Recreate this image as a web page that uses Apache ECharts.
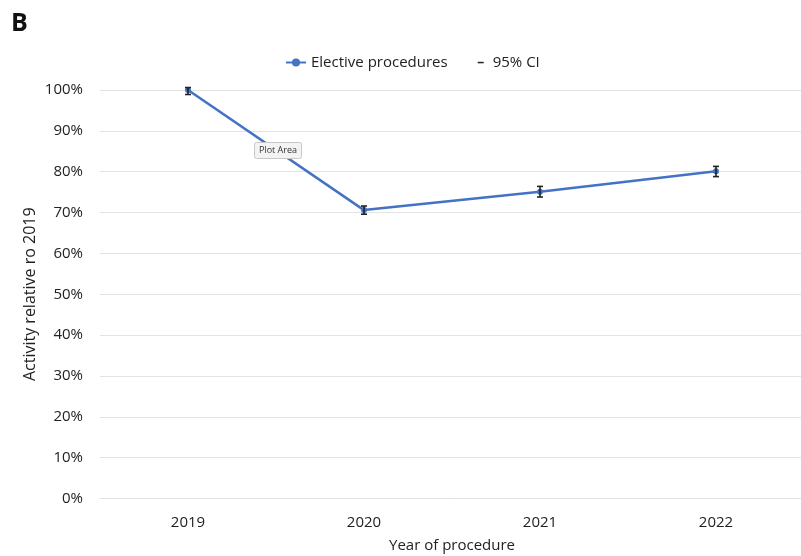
<!DOCTYPE html>
<html><head><meta charset="utf-8">
<script src="https://cdn.jsdelivr.net/npm/echarts@6/dist/echarts.min.js"></script>
<style>html,body{margin:0;padding:0;background:#fff}#c{width:801px;height:556px}</style>
</head><body><div id="c"></div>
<script>
const categories = ['2019', '2020', '2021', '2022'];
const activity = [100, 70.6, 75.1, 80.1];
const ciLow = [98.9, 69.6, 73.8, 78.8];
const ciHigh = [100.6, 71.6, 76.4, 81.3];
const seriesNames = ['Elective procedures', '95% CI'];
const yAxisTitle = 'Activity relative ro 2019';
const xAxisTitle = 'Year of procedure';

const FONT = "'Open Sans', sans-serif";
const TXT = '#222';
const chart = echarts.init(document.getElementById('c'), null, {renderer: 'canvas'});

const ciData = categories.map((c, i) => [i, ciLow[i], ciHigh[i]]);

chart.setOption({
  animation: false,
  backgroundColor: '#fff',
  textStyle: {fontFamily: FONT},
  grid: {left: 100, right: -3, top: 90, bottom: 57.5, containLabel: false, outerBoundsMode: 'none'},
  legend: {
    left: 285, top: 55, padding: 0,
    itemWidth: 20, itemHeight: 10, itemGap: 20,
    textStyle: {fontFamily: FONT, fontSize: 15, color: TXT},
    data: [
      {name: seriesNames[0]},
      {name: seriesNames[1], icon: 'path://M0,0 M20,10 M10,4.3 H16 V5.8 H10 Z', itemStyle: {color: TXT}}
    ]
  },
  xAxis: {
    type: 'category',
    data: categories,
    boundaryGap: true,
    axisLine: {show: true, lineStyle: {color: '#e3e3e3', width: 1}},
    axisTick: {show: false},
    axisLabel: {fontFamily: FONT, fontSize: 15, color: TXT, margin: 17},
    name: xAxisTitle,
    nameLocation: 'middle',
    nameGap: 40,
    nameMoveOverlap: false,
    nameTextStyle: {fontFamily: FONT, fontSize: 15, color: TXT}
  },
  yAxis: {
    type: 'value',
    min: 0, max: 100, interval: 10,
    axisLine: {show: false},
    axisTick: {show: false},
    splitLine: {show: true, lineStyle: {color: '#e3e3e3', width: 1}},
    axisLabel: {fontFamily: FONT, fontSize: 15, color: TXT, margin: 17, formatter: v => v + '%'},
    name: yAxisTitle,
    nameLocation: 'middle',
    nameGap: 62,
    nameRotate: 90,
    nameMoveOverlap: false,
    nameTextStyle: {fontFamily: FONT, fontSize: 16, color: TXT}
  },
  series: [
    {
      name: seriesNames[0],
      type: 'line',
      data: activity,
      symbol: 'circle',
      symbolSize: 6,
      itemStyle: {color: '#4472C4'},
      lineStyle: {color: '#4472C4', width: 2.5},
      z: 2
    },
    {
      name: seriesNames[1],
      type: 'custom',
      data: ciData,
      encode: {x: 0, y: [1, 2]},
      clip: false,
      z: 3,
      itemStyle: {color: TXT},
      renderItem: function (params, api) {
        const lo = api.coord([api.value(0), api.value(1)]);
        const hi = api.coord([api.value(0), api.value(2)]);
        const w = 3;
        const st = {stroke: TXT, lineWidth: 1.6};
        return {
          type: 'group',
          children: [
            {type: 'line', shape: {x1: lo[0], y1: lo[1], x2: hi[0], y2: hi[1]}, style: st},
            {type: 'line', shape: {x1: lo[0] - w, y1: lo[1], x2: lo[0] + w, y2: lo[1]}, style: st},
            {type: 'line', shape: {x1: hi[0] - w, y1: hi[1], x2: hi[0] + w, y2: hi[1]}, style: st}
          ]
        };
      }
    }
  ],
  graphic: [
    {type: 'text', left: 11, top: 11, style: {text: 'B', font: "bold 25px 'Open Sans', sans-serif", fill: '#111'}},
    {type: 'group', left: 254, top: 142, z: 100, children: [
      {type: 'rect', z: 100, shape: {x: 0, y: 0, width: 47, height: 16, r: 2}, style: {fill: '#f3f3f3', stroke: '#c8c8c8', lineWidth: 1}},
      {type: 'text', z: 101, x: 23.5, y: 8, style: {text: 'Plot Area', font: "9px 'Open Sans', sans-serif", fill: '#333', align: 'center', verticalAlign: 'middle'}}
    ]}
  ]
});
</script>
</body></html>
